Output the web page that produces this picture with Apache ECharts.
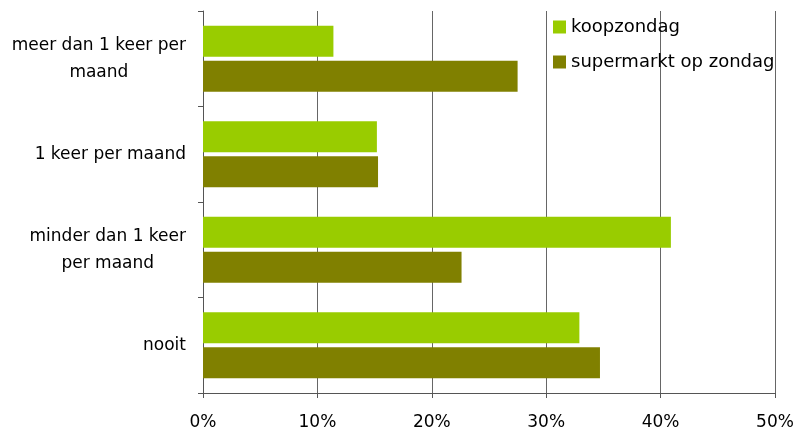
<!DOCTYPE html>
<html>
<head>
<meta charset="utf-8">
<script src="https://cdn.jsdelivr.net/npm/echarts@6/dist/echarts.min.js"></script>
<style>html,body{margin:0;padding:0;background:#fff;}#c{width:798px;height:431px;}</style>
</head>
<body>
<div id="c"></div>
<script>
const categories = ['meer dan 1 keer per\nmaand', '1 keer per maand', 'minder dan 1 keer\nper maand', 'nooit'];
const seriesNames = ['koopzondag', 'supermarkt op zondag'];
const koopzondag = [11.4, 15.2, 40.9, 32.9];
const supermarkt = [27.5, 15.3, 22.6, 34.7];
const xTicks = [0, 10, 20, 30, 40, 50];

const FONT = 'DejaVu Sans';
const chart = echarts.init(document.getElementById('c'));
chart.setOption({
  animation: false,
  backgroundColor: '#fff',
  grid: { left: 203, right: 23, top: 11, bottom: 38, containLabel: false },
  legend: {
    orient: 'vertical', left: 553, top: 18, padding: 0,
    icon: 'rect', itemWidth: 13, itemHeight: 13, itemGap: 17,
    textStyle: { fontFamily: FONT, fontSize: 18, color: '#000' },
    data: seriesNames
  },
  xAxis: {
    type: 'value', min: xTicks[0], max: xTicks[xTicks.length - 1], interval: 10,
    axisLine: { show: true, lineStyle: { color: '#555', width: 1 } },
    axisTick: { show: true, length: 5, lineStyle: { color: '#555' } },
    splitLine: { show: true, lineStyle: { color: '#666', width: 1 } },
    axisLabel: { formatter: v => v + '%', fontFamily: FONT, fontSize: 17, color: '#000', margin: 21 }
  },
  yAxis: {
    type: 'category', inverse: true, data: categories,
    axisLine: { show: true, lineStyle: { color: '#555', width: 1 } },
    axisTick: { show: true, length: 5, lineStyle: { color: '#555' } },
    axisLabel: {
      fontFamily: FONT, fontSize: 17, color: '#000', margin: 17, lineHeight: 27,
      formatter: v => v.split('\n').map(s => '{c|' + s + '}').join('\n'),
      rich: { c: { align: 'center', fontFamily: FONT, fontSize: 17, lineHeight: 27, color: '#000' } }
    }
  },
  series: [
    { name: seriesNames[0], type: 'bar', data: koopzondag, itemStyle: { color: '#99CC00' }, barGap: '13%', barCategoryGap: '31%' },
    { name: seriesNames[1], type: 'bar', data: supermarkt, itemStyle: { color: '#808000' }, barGap: '13%', barCategoryGap: '31%' }
  ]
});
</script>
</body>
</html>
